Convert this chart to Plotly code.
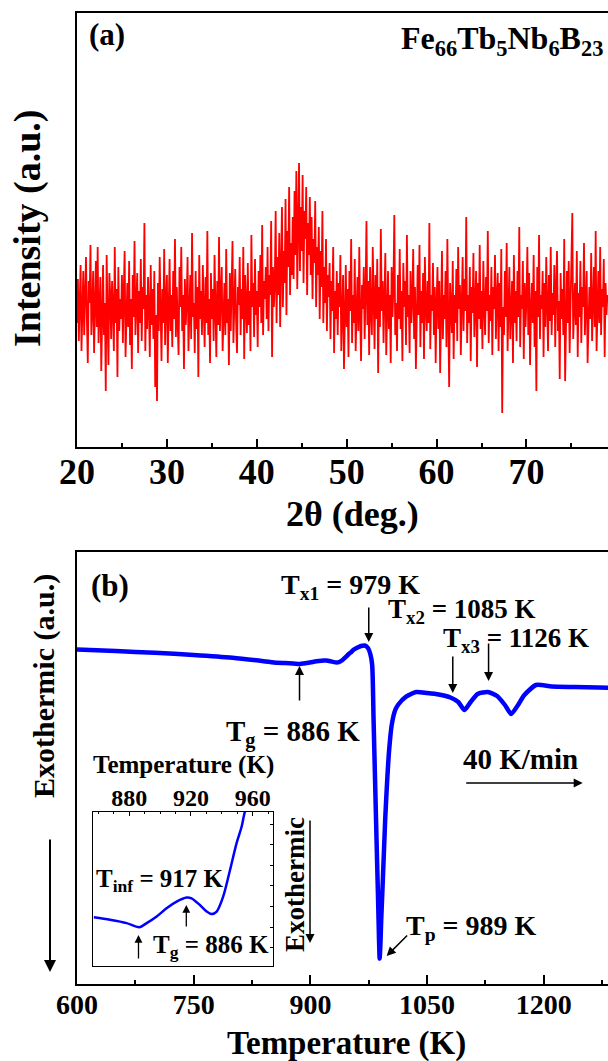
import plotly.graph_objects as go

FONT = "Liberation Serif"

# ---------------- (a) XRD scan: 2θ from 20° in 0.1° steps ----------------
two_theta_start = 20.0
two_theta_step = 0.1
xrd_counts = [
    620, 840, 530, 760, 910, 480, 700, 880, 560, 790,
    950, 640, 420, 830, 720, 1010, 560, 690, 880, 470,
    760, 930, 600, 1000, 520, 700, 850, 380, 640, 910,
    560, 720, 280, 960, 650, 410, 870, 760, 540, 830,
    690, 480, 1000, 620, 790, 350, 900, 580, 740, 640,
    860, 520, 770, 980, 450, 680, 820, 600, 930, 510,
    740, 390, 860, 650, 1030, 560, 710, 870, 470, 780,
    620, 940, 530, 800, 690, 1120, 480, 760, 590, 850,
    700, 450, 910, 610, 790, 540, 880, 300, 660, 230,
    820, 580, 950, 670, 430, 790, 620, 990, 510, 730,
    860, 420, 690, 940, 580, 760, 500, 880, 640, 1040,
    550, 800, 620, 460, 900, 700, 1000, 580, 760, 390,
    840, 610, 730, 950, 480, 670, 860, 540, 1070, 650,
    720, 470, 880, 590, 800, 350, 960, 640, 780, 560,
    910, 690, 500, 850, 620, 1080, 560, 740, 420, 870,
    640, 790, 530, 960, 700, 450, 830, 610, 1050, 580,
    760, 900, 480, 690, 820, 560, 990, 620, 740, 410,
    870, 580, 760, 1030, 520, 680, 890, 630, 470, 800,
    710, 950, 560, 790, 640, 1000, 440, 860, 690, 570,
    920, 610, 780, 480, 1060, 700, 820, 550, 940, 660,
    780, 500, 880, 700, 960, 620, 1110, 560, 830, 740,
    900, 640, 1000, 580, 860, 760, 1130, 450, 900, 700,
    820, 1180, 620, 950, 760, 1070, 600, 900, 1200, 700,
    980, 820, 1240, 660, 1080, 900, 1300, 760, 1020, 860,
    1150, 840, 1280, 960, 1380, 790, 1100, 1420, 880, 1200,
    980, 1360, 820, 1180, 1040, 1300, 760, 1120, 960, 1250,
    860, 1150, 740, 1040, 920, 1230, 700, 1000, 860, 1100,
    640, 980, 800, 1180, 620, 900, 720, 1040, 580, 860,
    750, 920, 540, 830, 680, 1000, 470, 780, 640, 880,
    560, 820, 700, 960, 480, 730, 860, 390, 690, 910,
    600, 790, 450, 880, 680, 1040, 520, 760, 620, 940,
    480, 720, 850, 580, 1000, 660, 430, 810, 690, 900,
    540, 770, 1130, 610, 830, 460, 900, 680, 560, 1000,
    720, 490, 860, 640, 940, 370, 800, 600, 1090, 680,
    830, 520, 750, 970, 460, 690, 880, 590, 760, 420,
    900, 650, 810, 1160, 560, 720, 480, 860, 640, 990,
    590, 780, 430, 920, 700, 830, 510, 1060, 650, 760,
    470, 880, 620, 740, 990, 540, 800, 390, 700, 910,
    660, 1010, 500, 780, 620, 870, 440, 950, 700, 580,
    830, 620, 1120, 490, 760, 680, 920, 560, 800, 420,
    710, 900, 590, 830, 370, 680, 980, 540, 760, 640,
    880, 500, 1040, 650, 300, 820, 700, 570, 930, 440,
    760, 620, 890, 530, 1000, 690, 810, 460, 720, 950,
    580, 840, 680, 1150, 520, 760, 620, 900, 430, 800,
    670, 970, 550, 740, 880, 400, 820, 640, 1010, 590,
    780, 490, 930, 700, 560, 850, 680, 1080, 520, 760,
    630, 900, 460, 800, 690, 960, 540, 740, 870, 480,
    820, 600, 990, 170, 700, 560, 880, 650, 1020, 480,
    760, 900, 540, 700, 830, 420, 960, 620, 780, 530,
    880, 650, 1100, 500, 760, 690, 930, 440, 820, 600,
    740, 1000, 560, 870, 410, 690, 820, 620, 960, 500,
    780, 280, 900, 650, 1060, 540, 760, 690, 880, 450,
    820, 600, 950, 720, 480, 860, 630, 1000, 560, 770,
    660, 910, 500, 790, 980, 580, 730, 340, 870, 640,
    790, 560, 1040, 330, 700, 880, 620, 930, 470, 760,
    860, 1170, 540, 700, 820, 610, 980, 450, 770, 650,
    930, 520, 800, 700, 1020, 560, 740, 880, 420, 690,
    800, 640, 970, 530, 760, 900, 600, 1080, 480, 740,
    880, 620, 1000, 560, 790, 700, 940, 450, 820, 660,
    760,
]
two_theta = [round(two_theta_start + i * two_theta_step, 2) for i in range(len(xrd_counts))]

# ---------------- (b) DSC trace, 40 K/min ----------------
dsc_T = [
    600, 650, 700, 750, 800, 840, 857, 867.5, 878.3, 886.5, 891.3, 897.8,
    904.2, 910.7, 917.2, 920.4, 925.8, 930.2, 933.4, 936.7, 940.9, 945.3,
    949.6, 952.9, 955, 960, 965, 970, 974, 977, 979.4, 981.2, 983.1, 985,
    987, 988.2, 989, 990, 991, 993.1, 996.1, 998.7, 1001.2, 1004.5, 1009,
    1013, 1023, 1036, 1050, 1065, 1080, 1090, 1098, 1106, 1115, 1128, 1140,
    1150, 1158, 1166, 1175, 1190, 1210, 1240, 1270, 1300,
]
dsc_flow = [
    33.46, 33.30, 33.12, 32.90, 32.62, 32.28, 32.12, 32.09, 32.05, 32.00,
    32.05, 32.13, 32.23, 32.31, 32.36, 32.35, 32.27, 32.19, 32.16, 32.19,
    32.37, 32.69, 33.02, 33.22, 33.40, 33.62, 33.80, 33.85, 33.60, 33.00,
    31.90, 26.40, 20.40, 14.40, 8.40, 4.40, 2.55, 4.00, 6.40, 10.40, 16.40,
    20.40, 23.40, 25.90, 27.40, 27.95, 28.73, 29.20, 29.10, 28.95, 28.65,
    28.20, 27.40, 28.20, 29.00, 29.20, 28.80, 27.90, 27.00, 27.80, 28.90,
    29.90, 29.75, 29.70, 29.65, 29.60,
]

# inset shows the glass-transition window of the same trace
inset_T_range = [856.7, 973.4]
inset_flow_range = [31.53, 33.40]
inset_T = [t for t in dsc_T if 850 <= t <= 960]
inset_flow = [f for t, f in zip(dsc_T, dsc_flow) if 850 <= t <= 960]

# ---------------- layout geometry (pixels) ----------------
W, H = 608, 1061
ML, MR, MT, MB = 77, 0, 13, 77
PW = W - ML - MR
PH = H - MT - MB


def px(x):
    return (x - ML) / PW


def py(y):
    return (H - MB - y) / PH


fig = go.Figure()

fig.add_trace(go.Scatter(
    x=two_theta, y=xrd_counts, mode="lines",
    line=dict(color="#ff0000", width=1.8),
    xaxis="x", yaxis="y", showlegend=False,
))
fig.add_trace(go.Scatter(
    x=dsc_T, y=dsc_flow, mode="lines",
    line=dict(color="#0000ff", width=4.5, shape="spline", smoothing=0.6),
    xaxis="x2", yaxis="y2", showlegend=False,
))
fig.add_trace(go.Scatter(
    x=inset_T, y=inset_flow, mode="lines",
    line=dict(color="#0000ff", width=2.5, shape="spline", smoothing=0.8),
    xaxis="x3", yaxis="y3", showlegend=False,
))

axis_common = dict(showgrid=False, zeroline=False, showline=True,
                   linecolor="black", linewidth=1.5)

fig.update_layout(
    width=W, height=H,
    margin=dict(l=ML, r=MR, t=MT, b=MB),
    paper_bgcolor="white", plot_bgcolor="rgba(0,0,0,0)",
    font=dict(family=FONT, color="black"),
    xaxis=dict(
        **axis_common, domain=[0, 1], anchor="y", range=[20, 79.07],
        tickvals=[20, 30, 40, 50, 60, 70], ticks="inside", ticklen=8,
        tickwidth=1.5, tickcolor="black", mirror=True,
        minor=dict(ticks="inside", ticklen=4, tickwidth=1.5, dtick=5,
                   tick0=25, tickcolor="black"),
        tickfont=dict(family=FONT, size=36, weight="bold"),
        ticklabelstandoff=-8,
    ),
    yaxis=dict(
        **axis_common, domain=[py(447), 1], anchor="x", range=[0, 2170],
        showticklabels=False, ticks="",
    ),
    xaxis2=dict(
        **axis_common, domain=[0, 1], anchor="y2", range=[600, 1282.5],
        tickvals=[600, 750, 900, 1050, 1200], ticks="inside", ticklen=9,
        tickwidth=1.5, tickcolor="black", mirror=True,
        minor=dict(ticks="inside", ticklen=4, tickwidth=1.5, dtick=75,
                   tick0=675, tickcolor="black"),
        tickfont=dict(family=FONT, size=28, weight="bold"),
        ticklabelstandoff=-5,
    ),
    yaxis2=dict(
        **axis_common, domain=[0, py(552)], anchor="x2", range=[0, 43.2],
        showticklabels=False, ticks="",
    ),
    xaxis3=dict(
        showgrid=False, zeroline=False, showline=True, linecolor="black",
        linewidth=1, mirror=True, side="top",
        domain=[px(93.3), px(273.3)], anchor="y3", range=inset_T_range,
        tickvals=[880, 920, 960], ticks="inside", ticklen=4, tickwidth=1,
        tickcolor="black",
        minor=dict(ticks="inside", ticklen=2.5, tickwidth=1, dtick=10,
                   tickcolor="black"),
        tickfont=dict(family=FONT, size=24, weight="bold"),
        ticklabelstandoff=-5,
    ),
    yaxis3=dict(
        showgrid=False, zeroline=False, showline=True, linecolor="black",
        linewidth=1, mirror=True, side="right",
        domain=[py(966), py(811.7)], anchor="x3", range=inset_flow_range,
        showticklabels=False, ticks="inside", ticklen=3, tickwidth=1,
        tickcolor="black", dtick=0.25,
    ),
)

B = dict(family=FONT, size=30, color="black", weight="bold")


def label(text, x, y, size=30, **kw):
    f = dict(B)
    f["size"] = size
    fig.add_annotation(text=text, x=px(x), y=py(y), xref="paper", yref="paper",
                       showarrow=False, font=f, xanchor=kw.pop("xanchor", "center"),
                       yanchor=kw.pop("yanchor", "middle"), **kw)


def arrow(x, y, ax, ay, xref="x2", yref="y2", width=1.5):
    fig.add_annotation(x=x, y=y, ax=ax, ay=ay, xref=xref, yref=yref,
                       text="", showarrow=True, arrowhead=2, arrowsize=1.2,
                       arrowwidth=width, arrowcolor="black")


# axis titles
label("Intensity (a.u.)", 28, 228, size=38, textangle=-90)
label("2θ (deg.)", 352, 514, size=36)
label("Exothermic (a.u.)", 44, 686, size=30, textangle=-90)
label("Temperature (K)", 346, 1043, size=33)

# panel (a) texts
label("(a)", 107, 34, size=31)
label("Fe<sub>66</sub>Tb<sub>5</sub>Nb<sub>6</sub>B<sub>23</sub>", 605, 40,
      size=32, xanchor="right")

# panel (b) texts
label("(b)", 110, 585, size=31)
label("T<sub>x1</sub> = 979 K", 350, 586, size=28)
label("T<sub>x2</sub> = 1085 K", 462, 611, size=27)
label("T<sub>x3</sub> = 1126 K", 516, 640, size=27)
label("T<sub>g</sub> = 886 K", 293, 733, size=29)
label("40 K/min", 520, 759, size=29)
label("T<sub>p</sub> = 989 K", 471, 927, size=28)

# inset texts
label("Temperature (K)", 183, 765, size=25)
label("T<sub>inf</sub> = 917 K", 160, 880, size=25)
label("T<sub>g</sub> = 886 K", 211, 946, size=25)
label("Exothermic", 295, 885, size=27, textangle=-90)

# arrows in panel (b)
arrow(975, 34.2, 0, -36)
arrow(1083, 29.1, 0, -38)
arrow(1129, 30.3, 0, -39)
arrow(886, 31.8, 0, 36)
arrow(998, 2.8, 22, -22)
arrow(1250, 20.1, -118, 0)
arrow(px(50), py(972), 0, -134, xref="paper", yref="paper", width=2)
arrow(px(310), py(943), 0, -124, xref="paper", yref="paper", width=1.5)

# arrows in the inset
arrow(886, 31.907, 0, 25, xref="x3", yref="y3", width=1.3)
arrow(917, 32.27, 0, 23, xref="x3", yref="y3", width=1.3)

fig.write_html("out.html")
